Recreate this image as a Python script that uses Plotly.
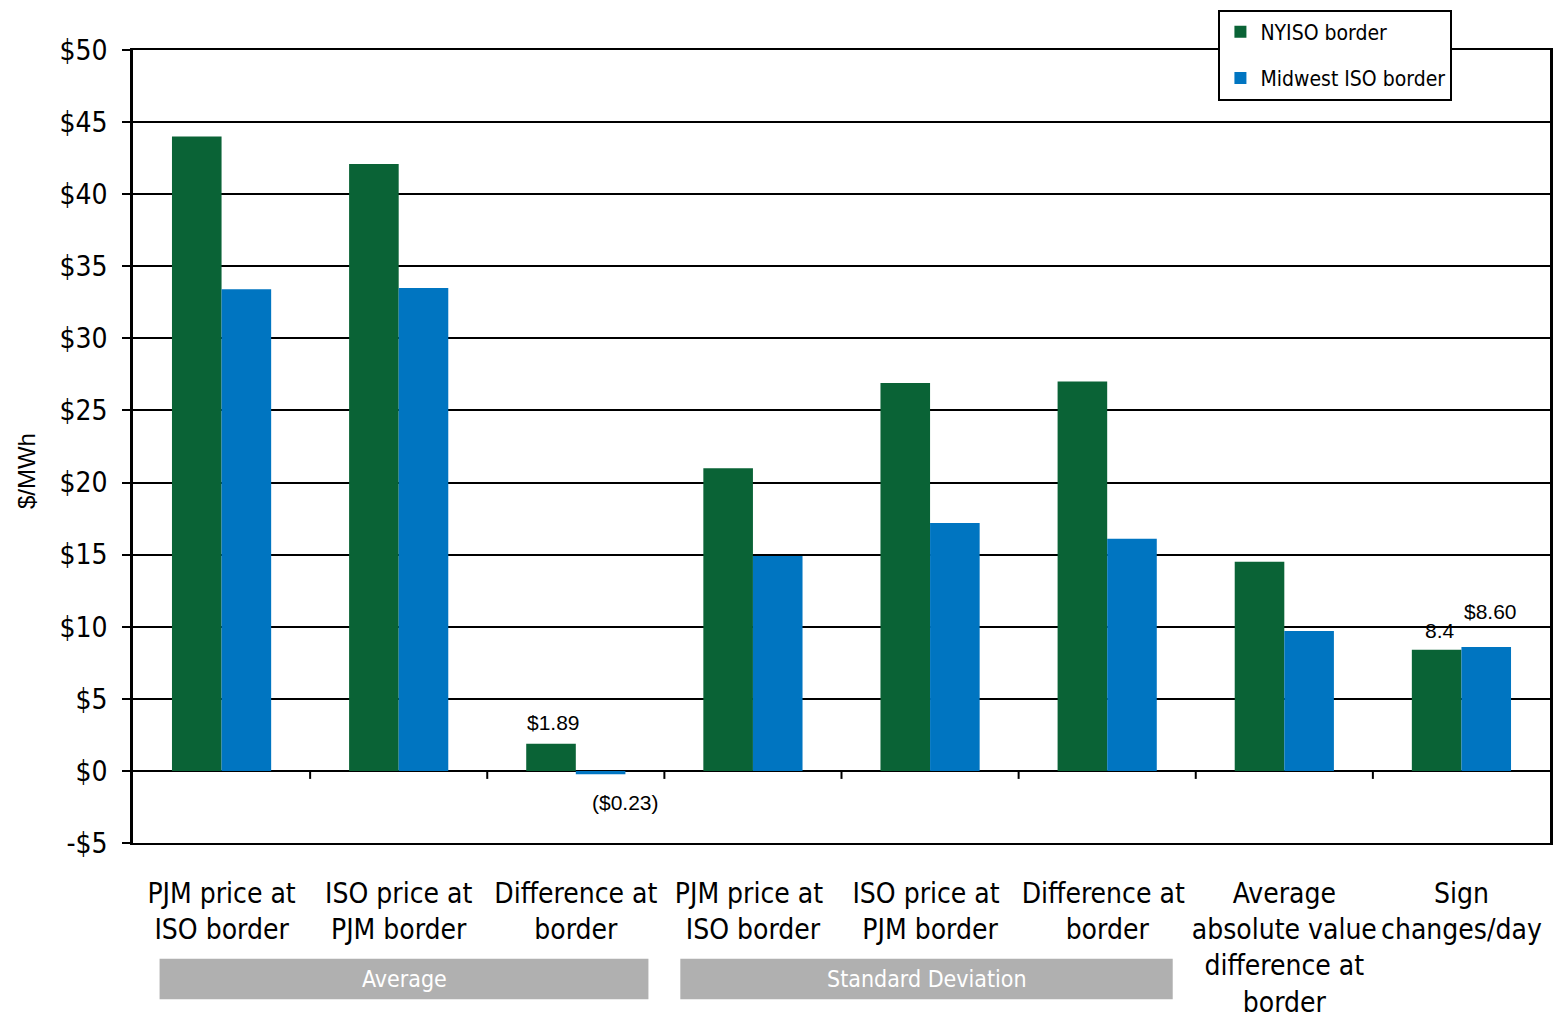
import plotly.graph_objects as go

categories = [
    "PJM price at<br>ISO border",
    "ISO price at<br>PJM border",
    "Difference at<br>border",
    "PJM price at <br>ISO border",
    "ISO price at <br>PJM border",
    "Difference at <br>border",
    "Average<br>absolute value<br>difference at<br>border",
    "Sign<br>changes/day",
]
nyiso = [44.0, 42.1, 1.89, 21.0, 26.9, 27.0, 14.5, 8.4]
midwest = [33.4, 33.5, -0.23, 14.9, 17.2, 16.1, 9.7, 8.6]
series_names = ["NYISO border", "Midwest ISO border"]
ytick_vals = [-5, 0, 5, 10, 15, 20, 25, 30, 35, 40, 45, 50]
ytick_text = ["-$5", "$0", "$5", "$10", "$15", "$20", "$25", "$30", "$35", "$40", "$45", "$50"]
group_names = ["Average", "Standard Deviation"]

GREEN = "#0A6336"
BLUE = "#0075C1"
NARROW = "DejaVu Sans Condensed"
REG = "Liberation Sans, Arial, sans-serif"

x_idx = list(range(len(categories)))

fig = go.Figure()
fig.add_trace(go.Bar(x=x_idx, y=nyiso, name=series_names[0], marker_color=GREEN,
                     marker_line_width=0, legendgroup="a"))
fig.add_trace(go.Bar(x=x_idx, y=midwest, name=series_names[1], marker_color=BLUE,
                     marker_line_width=0, legendgroup="b"))

# data labels
fig.add_annotation(x=2, y=nyiso[2], text="$1.89", showarrow=False, xshift=-22,
                   yanchor="bottom", yshift=8, font=dict(family=REG, size=21, color="black"))
fig.add_annotation(x=2, y=0, text="($0.23)", showarrow=False, xshift=50,
                   yanchor="middle", yshift=-32, font=dict(family=REG, size=21, color="black"))
fig.add_annotation(x=7, y=nyiso[7], text="8.4", showarrow=False, xshift=-21,
                   yanchor="bottom", yshift=6, font=dict(family=REG, size=21, color="black"))
fig.add_annotation(x=7, y=midwest[7], text="$8.60", showarrow=False, xshift=29,
                   yanchor="bottom", yshift=22, font=dict(family=REG, size=21, color="black"))

# tick marks on the zero line at category boundaries
shapes = []
for i in range(len(categories) - 1):
    shapes.append(dict(type="line", xref="x", yref="y", ysizemode="pixel", yanchor=0,
                       x0=i + 0.5, x1=i + 0.5, y0=0, y1=-8,
                       line=dict(color="black", width=2)))

# group bands
bands = [(-0.35, 2.41, group_names[0]), (2.59, 5.37, group_names[1])]
for x0, x1, label in bands:
    shapes.append(dict(type="rect", xref="x", yref="paper", x0=x0, x1=x1,
                       y0=-0.197, y1=-0.146, fillcolor="#B0B0B0", line_width=0, layer="above"))
    fig.add_annotation(x=(x0 + x1) / 2, y=-0.1715, xref="x", yref="paper", text=label,
                       showarrow=False, yanchor="middle",
                       font=dict(family=NARROW, size=23, color="white"))

# y axis title
fig.add_annotation(x=-0.0755, y=0.469, xref="paper", yref="paper", text="$/MWh",
                   textangle=-90, showarrow=False, xanchor="center", yanchor="middle",
                   font=dict(family=REG, size=24, color="black"))

fig.update_layout(
    width=1560, height=1022,
    margin=dict(l=133, r=10, t=48, b=179),
    paper_bgcolor="white", plot_bgcolor="white",
    barmode="group", bargap=0.44, bargroupgap=0,
    shapes=shapes,
    showlegend=True,
    legend=dict(x=0.766, y=1.051, xanchor="left", yanchor="top",
                bgcolor="white", bordercolor="black", borderwidth=2,
                font=dict(family=NARROW, size=21, color="black"),
                traceorder="grouped", tracegroupgap=16,
                itemwidth=30),
    font=dict(family=NARROW, color="black"),
)
fig.update_xaxes(
    tickmode="array", tickvals=x_idx, ticktext=categories,
    range=[-0.5, len(categories) - 0.5],
    showline=True, linecolor="black", linewidth=2, mirror=True,
    ticks="", ticklabelstandoff=24, tickangle=0, automargin=False,
    tickfont=dict(family=NARROW, size=28, color="black"),
    showgrid=False, zeroline=False,
)
fig.update_yaxes(
    range=[-5, 50], tickmode="array", tickvals=ytick_vals, ticktext=ytick_text,
    showline=True, linecolor="black", linewidth=2.5, mirror=True,
    ticks="outside", ticklen=8, tickwidth=2, tickcolor="black",
    showgrid=True, gridcolor="black", gridwidth=1.5,
    zeroline=False, automargin=False, ticklabelstandoff=9,
    tickfont=dict(family=NARROW, size=28, color="black"),
)

fig.write_html("out.html")
